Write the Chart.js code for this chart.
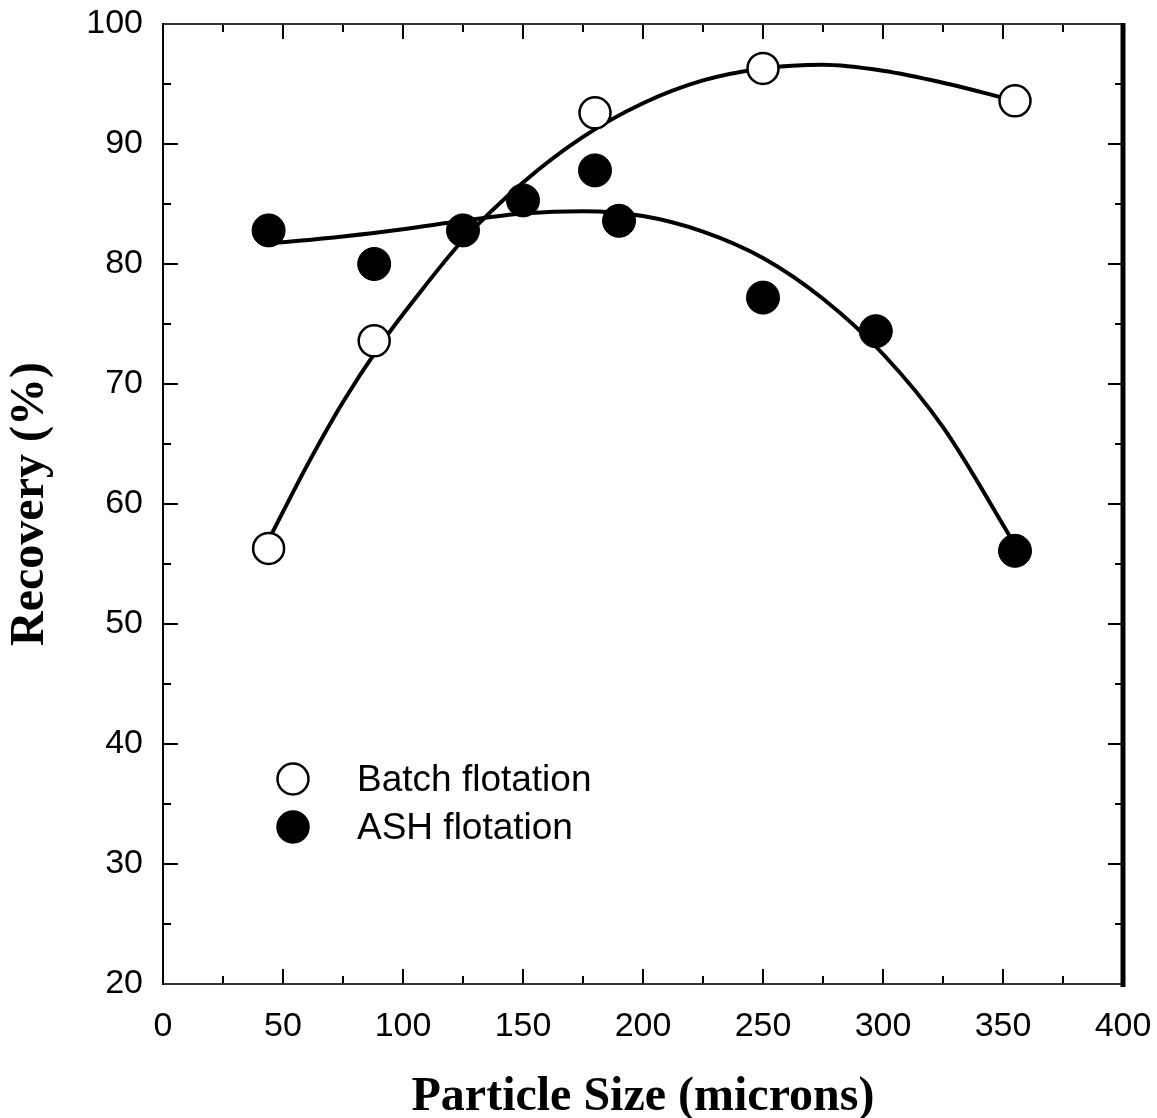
<!DOCTYPE html>
<html>
<head>
<meta charset="utf-8">
<script src="https://cdn.jsdelivr.net/npm/chart.js@4.4.1/dist/chart.umd.min.js"></script>
<style>
  html, body { margin: 0; padding: 0; background: #fff; }
</style>
</head>
<body>
<canvas id="chart" width="1157" height="1118"></canvas>
<script>
// measured points
var batchSize = [44, 88, 180, 250, 355];
var batchRecovery = [56.3, 73.6, 92.6, 96.3, 93.6];
var ashSize = [44, 88, 125, 150, 180, 190, 250, 297, 355];
var ashRecovery = [82.8, 80.0, 82.8, 85.3, 87.8, 83.6, 77.2, 74.4, 56.1];

// fitted curves
var batchFitSize = [44, 60, 75, 90, 105, 125, 150, 175, 200, 225, 250, 275, 300, 325, 355];
var batchFitRecovery = [57.0, 63.2, 68.5, 73.1, 77.1, 82.0, 86.8, 90.6, 93.4, 95.3, 96.3, 96.6, 96.1, 95.1, 93.6];
var ashFitSize = [44, 75, 100, 125, 150, 175, 200, 225, 250, 275, 300, 325, 355];
var ashFitRecovery = [81.7, 82.3, 82.9, 83.6, 84.2, 84.4, 84.0, 82.7, 80.5, 77.1, 72.5, 66.4, 56.6];

var seriesNames = ['Batch flotation', 'ASH flotation'];

function toXY(xs, ys) {
  return xs.map(function (x, i) { return { x: x, y: ys[i] }; });
}

// inward ticks on all four sides plus the box
var frame = {
  id: 'frame',
  afterDatasetsDraw: function (chart) {
    var ctx = chart.ctx, a = chart.chartArea;
    var xs = chart.scales.x, ys = chart.scales.y;
    function seg(x1, y1, x2, y2) { ctx.beginPath(); ctx.moveTo(x1, y1); ctx.lineTo(x2, y2); ctx.stroke(); }
    ctx.save();
    ctx.strokeStyle = '#000';
    ctx.lineWidth = 2;
    xs.ticks.forEach(function (t, i) {
      var px = xs.getPixelForValue(t.value);
      seg(px, a.bottom, px, a.bottom - 15);
      seg(px, a.top, px, a.top + 15);
      if (i < xs.ticks.length - 1) {
        var mx = xs.getPixelForValue((t.value + xs.ticks[i + 1].value) / 2);
        seg(mx, a.bottom, mx, a.bottom - 8);
        seg(mx, a.top, mx, a.top + 8);
      }
    });
    ys.ticks.forEach(function (t, i) {
      var py = ys.getPixelForValue(t.value);
      seg(a.left, py, a.left + 15, py);
      seg(a.right, py, a.right - 15, py);
      if (i < ys.ticks.length - 1) {
        var my = ys.getPixelForValue((t.value + ys.ticks[i + 1].value) / 2);
        seg(a.left, my, a.left + 8, my);
        seg(a.right, my, a.right - 8, my);
      }
    });
    ctx.strokeStyle = '#333';
    seg(a.left, a.top, a.right, a.top);
    seg(a.left, a.bottom, a.right, a.bottom);
    ctx.strokeStyle = '#000';
    seg(a.left, a.top - 1, a.left, a.bottom + 1);
    ctx.lineWidth = 5;
    seg(a.right, a.top - 1, a.right, a.bottom + 3);
    ctx.restore();
  }
};

// legend inside the plot, lower left
var innerLegend = {
  id: 'innerLegend',
  afterDraw: function (chart) {
    var ctx = chart.ctx;
    var rows = [chart.data.datasets[0], chart.data.datasets[1]];
    ctx.save();
    ctx.font = '37px "Liberation Sans", Arial, sans-serif';
    ctx.textBaseline = 'middle';
    rows.forEach(function (ds, i) {
      var cy = 779 + i * 48;
      ctx.beginPath();
      ctx.arc(293, cy, 15.5, 0, Math.PI * 2);
      ctx.fillStyle = ds.pointBackgroundColor;
      ctx.fill();
      ctx.lineWidth = 2.5;
      ctx.strokeStyle = '#000';
      ctx.stroke();
      ctx.fillStyle = '#000';
      ctx.fillText(ds.label, 357, cy + 2);
    });
    ctx.restore();
  }
};

new Chart('chart', {
  type: 'scatter',
  plugins: [frame, innerLegend],
  data: {
    datasets: [
      {
        label: seriesNames[0],
        data: toXY(batchSize, batchRecovery),
        pointRadius: 15.5,
        pointBackgroundColor: '#fff',
        pointBorderColor: '#000',
        pointBorderWidth: 2.5,
        showLine: false,
        order: 0
      },
      {
        label: seriesNames[1],
        data: toXY(ashSize, ashRecovery),
        pointRadius: 16.5,
        pointBackgroundColor: '#000',
        pointBorderColor: '#000',
        pointBorderWidth: 1,
        showLine: false,
        order: 0
      },
      {
        label: 'batch fit',
        data: toXY(batchFitSize, batchFitRecovery),
        showLine: true,
        pointRadius: 0,
        borderColor: '#000',
        borderWidth: 4,
        cubicInterpolationMode: 'monotone',
        order: 1
      },
      {
        label: 'ash fit',
        data: toXY(ashFitSize, ashFitRecovery),
        showLine: true,
        pointRadius: 0,
        borderColor: '#000',
        borderWidth: 4,
        cubicInterpolationMode: 'monotone',
        order: 1
      }
    ]
  },
  options: {
    responsive: false,
    devicePixelRatio: 1,
    animation: false,
    layout: { padding: { top: 24, right: 34, left: 0, bottom: 0 } },
    plugins: {
      legend: { display: false },
      tooltip: { enabled: false }
    },
    scales: {
      x: {
        type: 'linear',
        min: 0,
        max: 400,
        ticks: {
          stepSize: 50,
          color: '#000',
          padding: 0,
          maxRotation: 0,
          font: { family: '"Liberation Sans", Arial, sans-serif', size: 34 }
        },
        // invisible tick marks only push the labels away from the axis
        grid: { display: true, drawOnChartArea: false, drawTicks: true, tickLength: 22, tickColor: 'rgba(0,0,0,0)' },
        border: { display: false },
        title: {
          display: true,
          text: 'Particle Size (microns)',
          color: '#000',
          padding: 0,
          font: { family: '"Liberation Serif", "Times New Roman", serif', size: 48, weight: 'bold', lineHeight: 0.85 }
        },
        afterFit: function (s) { s.height = 134; }
      },
      y: {
        type: 'linear',
        min: 20,
        max: 100,
        ticks: {
          stepSize: 10,
          color: '#000',
          padding: 0,
          font: { family: '"Liberation Sans", Arial, sans-serif', size: 34 }
        },
        grid: { display: true, drawOnChartArea: false, drawTicks: true, tickLength: 20, tickColor: 'rgba(0,0,0,0)' },
        border: { display: false },
        title: {
          display: true,
          text: 'Recovery (%)',
          color: '#000',
          padding: { top: 2, bottom: 0 },
          font: { family: '"Liberation Serif", "Times New Roman", serif', size: 48, weight: 'bold', lineHeight: 1.2 }
        },
        afterFit: function (s) { s.width = 163; }
      }
    }
  }
});
</script>
</body>
</html>
